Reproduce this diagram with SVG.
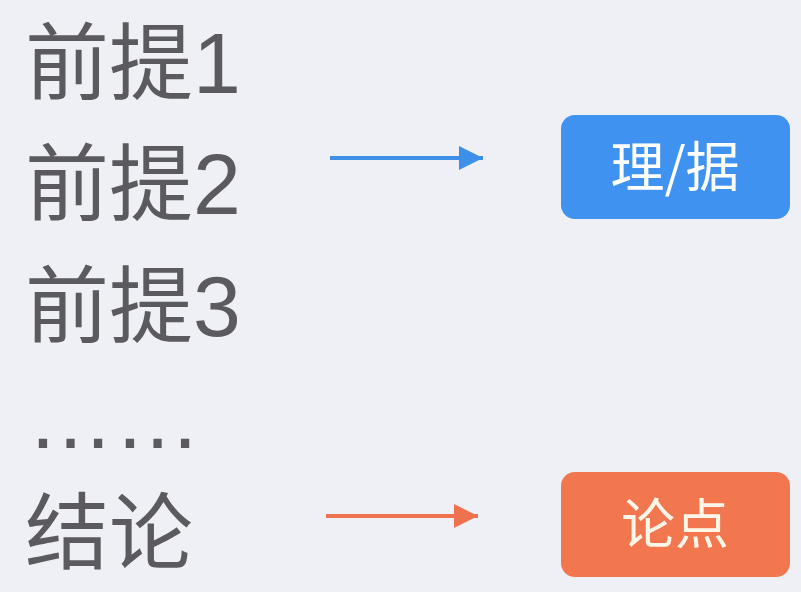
<svg xmlns="http://www.w3.org/2000/svg" width="801" height="592" viewBox="0 0 801 592">
<style>
.lbl{font-family:"Noto Sans CJK SC","Liberation Sans",sans-serif;font-size:84px;fill:#5a5a5f}
.num{font-family:"Liberation Sans","Noto Sans CJK SC",sans-serif;font-size:86px}
.box{font-family:"Noto Sans CJK SC","Liberation Sans",sans-serif;font-size:54px;text-anchor:middle}
</style>
<defs>
<marker id="ab" markerWidth="24" markerHeight="24" refX="24" refY="12" orient="auto" markerUnits="userSpaceOnUse"><path d="M0,0 L24,12 L0,24 Z" fill="#3d8fe8"/></marker>
<marker id="ao" markerWidth="24" markerHeight="24" refX="24" refY="12" orient="auto" markerUnits="userSpaceOnUse"><path d="M0,0 L24,12 L0,24 Z" fill="#ee7150"/></marker>
</defs>
<rect width="801" height="592" fill="#eff0f5"/>
<g id="premise1"><text class="lbl" x="25" y="93">前提<tspan class="num">1</tspan></text></g>
<g id="premise2"><text class="lbl" x="25" y="214">前提<tspan class="num">2</tspan></text></g>
<g id="premise3"><text class="lbl" x="25" y="336">前提<tspan class="num">3</tspan></text></g>
<g id="ellipsis"><text x="27" y="448" style="font-family:'Liberation Sans',sans-serif;font-size:87px;fill:#5a5a5f">……</text></g>
<g id="conclusion"><text class="lbl" x="25" y="563">结论</text></g>
<g id="reason"><rect x="561" y="115" width="229" height="104" rx="14" fill="#3f92ef"/><text class="box" x="675" y="187" fill="#ffffff">理/据</text></g>
<g id="thesis"><rect x="561" y="472" width="229" height="105" rx="14" fill="#f2774f"/><text class="box" x="675" y="544" fill="#fff6ea">论点</text></g>
<g id="connectors">
<line x1="330" y1="158" x2="483" y2="158" stroke="#3d8fe8" stroke-width="4" marker-end="url(#ab)"/>
<line x1="326" y1="516" x2="478" y2="516" stroke="#ee7150" stroke-width="4" marker-end="url(#ao)"/>
</g>
</svg>
